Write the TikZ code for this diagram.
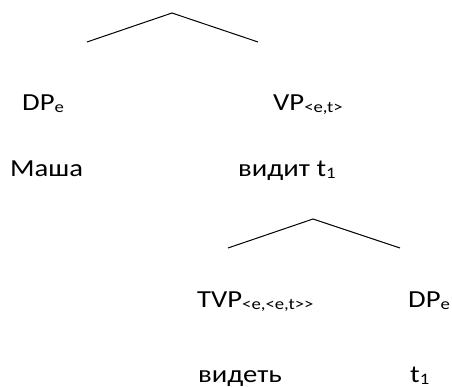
\documentclass[tikz,border=0pt]{standalone}
\usepackage{fontspec}
\setmainfont[FakeStretch=1.17, Ligatures=TeXOff]{Carlito}

% lowered small index, as in DP_e or t_1
\newcommand{\lowidx}[1]{\raisebox{-2pt}{\fontsize{16}{16}\selectfont #1}}

\begin{document}
\begin{tikzpicture}[
  x=1pt, y=-1pt,
  branch/.style={line width=1pt, draw=black},
  label/.style={anchor=base west, inner sep=0pt, font=\fontsize{24.5}{28}\selectfont}
]

\useasboundingbox (0,0) rectangle (452,387);

% upper branching
\coordinate (sTop) at (172,13);
\coordinate (sLeft) at (87,42);
\coordinate (sRight) at (258,42);
\draw[branch] (sLeft) -- (sTop) -- (sRight);

\node[label] (subj) at (22,111) {DP\lowidx{e}};
\node[label] (vp) at (273,111) {VP\lowidx{<e,t>}};
\node[label] (masha) at (10,177) {Маша};
\node[label] (vidit) at (238,177) {видит t\lowidx{1}};

% lower branching
\coordinate (vTop) at (313,219);
\coordinate (vLeft) at (228,248);
\coordinate (vRight) at (400,248);
\draw[branch] (vLeft) -- (vTop) -- (vRight);

\node[label] (tvp) at (197,307) {TVP\lowidx{<e,<e,t>>}};
\node[label] (obj) at (408,307) {DP\lowidx{e}};
\node[label] (videt) at (198,382) {видеть};
\node[label] (trace) at (410,382) {t\lowidx{1}};

\end{tikzpicture}
\end{document}
